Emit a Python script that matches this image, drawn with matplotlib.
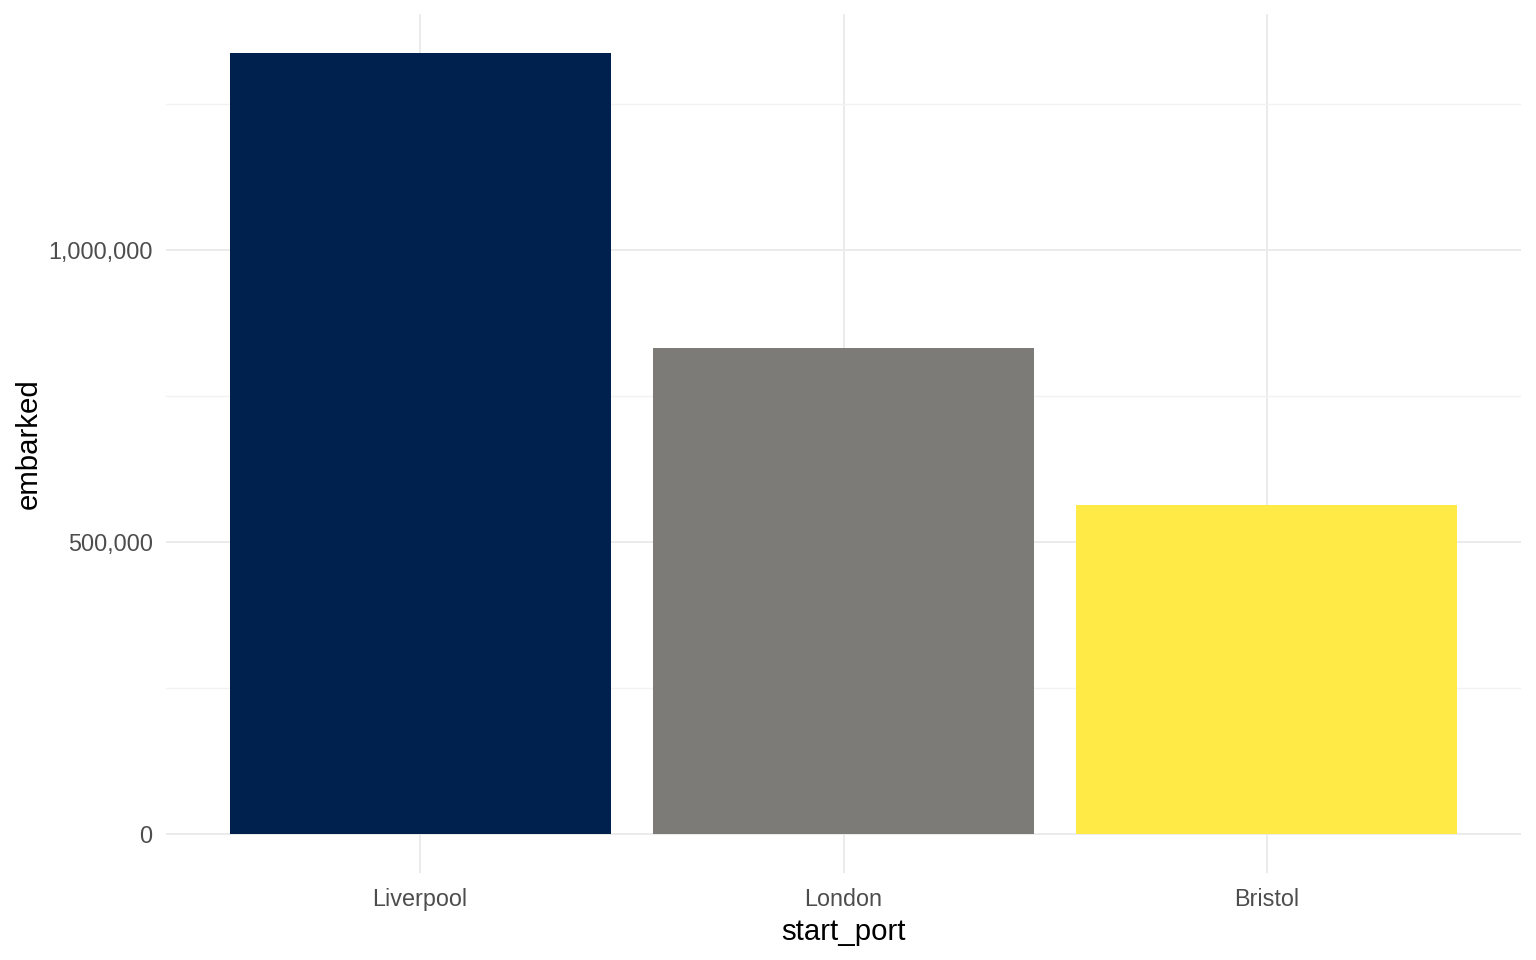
import numpy as np
import matplotlib.pyplot as plt
from matplotlib.ticker import FuncFormatter, MultipleLocator

ports = ["Liverpool", "London", "Bristol"]
embarked = [1337000, 832000, 563000]
bar_colors = ["#00204D", "#7C7B78", "#FFEA46"]

plt.rcParams['font.family'] = ['Liberation Sans', 'DejaVu Sans']

fig = plt.figure(figsize=(16, 10), dpi=96)
ax = fig.add_axes([166 / 1536, 1 - 873 / 960, (1521 - 166) / 1536, (873 - 14) / 960])

x = np.arange(1, len(ports) + 1)
ax.bar(x, embarked, width=0.9, color=bar_colors, zorder=2)

ymax = max(embarked)
ax.set_xlim(0.4, len(ports) + 0.6)
ax.set_ylim(-0.05 * ymax, 1.05 * ymax)

ax.set_xticks(x)
ax.set_xticklabels(ports)
ax.yaxis.set_major_locator(MultipleLocator(500000))
ax.yaxis.set_minor_locator(MultipleLocator(250000))
ax.yaxis.set_major_formatter(FuncFormatter(lambda v, p: f"{int(v):,}"))

ax.grid(True, which="major", color="#EBEBEB", linewidth=1.5, zorder=0)
ax.grid(True, which="minor", axis="y", color="#F2F2F2", linewidth=1.0, zorder=0)
ax.set_axisbelow(True)
for s in ax.spines.values():
    s.set_visible(False)
ax.tick_params(axis="both", which="both", length=0, labelsize=17.5, labelcolor="#4D4D4D")
ax.tick_params(axis="x", pad=11.5)
ax.tick_params(axis="y", pad=10)

ax.set_xlabel("start_port", fontsize=22, color="black", labelpad=5)
ax.set_ylabel("embarked", fontsize=22, color="black", labelpad=4)

fig.savefig("out.png", dpi=96, facecolor="white")
